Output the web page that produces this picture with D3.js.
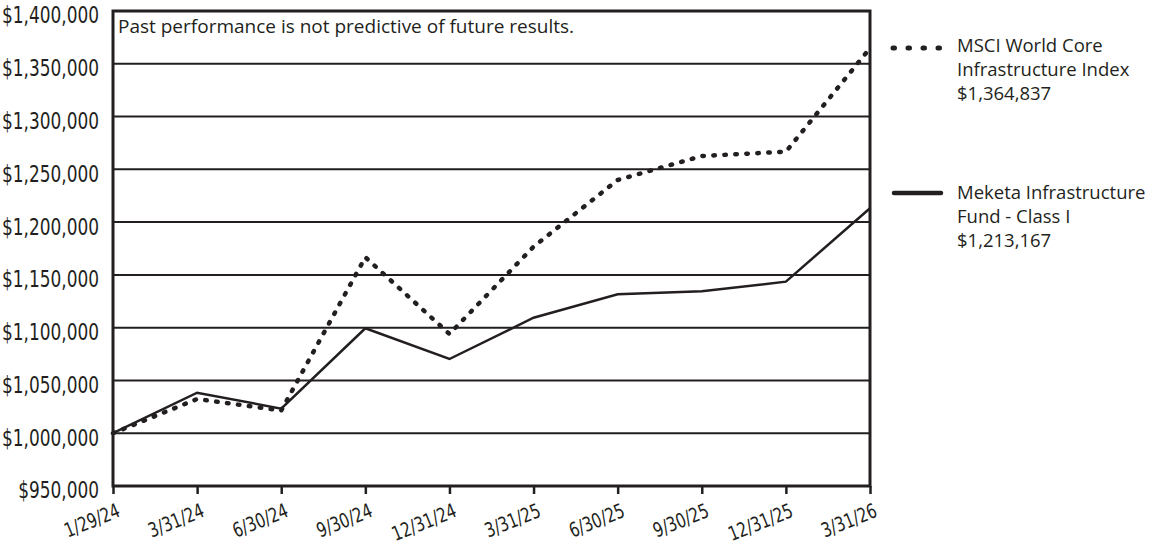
<!DOCTYPE html>
<html>
<head>
<meta charset="utf-8">
<script src="https://cdn.jsdelivr.net/npm/d3@7"></script>
<style>
body { margin: 0; background: #fff; }
svg { display: block; }
</style>
</head>
<body>
<svg id="chart" width="1158" height="546"></svg>
<script>
var dates = ['1/29/24', '3/31/24', '6/30/24', '9/30/24', '12/31/24', '3/31/25', '6/30/25', '9/30/25', '12/31/25', '3/31/26'];
var msciValues = [1000000, 1032400, 1021500, 1166700, 1094000, 1176700, 1239900, 1262600, 1266700, 1364837];
var fundValues = [1000000, 1038400, 1023300, 1099400, 1070300, 1109400, 1131600, 1134400, 1143600, 1213167];
var yTicks = [950000, 1000000, 1050000, 1100000, 1150000, 1200000, 1250000, 1300000, 1350000, 1400000];
var legendMsci = ['MSCI World Core', 'Infrastructure Index', '$1,364,837'];
var legendFund = ['Meketa Infrastructure', 'Fund - Class I', '$1,213,167'];
var note = 'Past performance is not predictive of future results.';

var ink = '#231f20';
var plotLeft = 113, plotTop = 11, plotRight = 870, plotBottom = 486;
var narrowFont = '"DejaVu Sans Condensed", "DejaVu Sans", sans-serif';
var textFont = '"Open Sans", sans-serif';

var svg = d3.select('#chart');

var x = d3.scalePoint().domain(dates).range([plotLeft, plotRight]);
var y = d3.scaleLinear().domain([950000, 1400000]).range([plotBottom, plotTop]);

var fmt = function(d) { return '$' + d3.format(',')(d); };

// squeeze labels horizontally, the original uses a condensed face
function squeeze(sel, k) {
  sel.each(function() {
    var w = this.getComputedTextLength();
    d3.select(this)
      .attr('textLength', w * k)
      .attr('lengthAdjust', 'spacingAndGlyphs');
  });
}

// gridlines
svg.append('g')
  .selectAll('line')
  .data(yTicks)
  .enter().append('line')
  .attr('x1', plotLeft).attr('x2', plotRight)
  .attr('y1', function(d) { return y(d); })
  .attr('y2', function(d) { return y(d); })
  .attr('stroke', ink)
  .attr('stroke-width', 2);

// y axis labels
var yAxis = d3.axisLeft(y).tickValues(yTicks).tickFormat(fmt).tickSize(0).tickPadding(14);
var yLabels = svg.append('g')
  .attr('transform', 'translate(' + plotLeft + ',0)')
  .call(yAxis)
  .call(function(g) { g.select('.domain').remove(); })
  .selectAll('text')
  .attr('fill', ink)
  .attr('dy', '0.52em')
  .style('font-family', narrowFont)
  .style('font-stretch', 'condensed')
  .style('font-size', '23px');

var widest = d3.max(yLabels.nodes(), function(n) { return n.getComputedTextLength(); });
squeeze(yLabels, 97 / widest);

// x axis
var xAxis = d3.axisBottom(x).tickSize(8).tickPadding(0);
var xg = svg.append('g')
  .attr('transform', 'translate(0,' + plotBottom + ')')
  .call(xAxis);
xg.select('.domain').remove();
xg.selectAll('.tick line').attr('stroke', ink).attr('stroke-width', 2.5);
var xLabels = xg.selectAll('text')
  .attr('fill', ink)
  .attr('y', 0)
  .attr('dy', 0)
  .style('font-family', narrowFont)
  .style('font-stretch', 'condensed')
  .style('font-size', '20px')
  .style('text-anchor', 'end')
  .attr('transform', 'translate(8,30) rotate(-22)');
var firstW = xLabels.node().getComputedTextLength();
squeeze(xLabels, 58 / firstW);

// frame
svg.append('rect')
  .attr('x', plotLeft).attr('y', plotTop)
  .attr('width', plotRight - plotLeft).attr('height', plotBottom - plotTop)
  .attr('fill', 'none')
  .attr('stroke', ink)
  .attr('stroke-width', 3);

var line = d3.line()
  .x(function(d, i) { return x(dates[i]); })
  .y(function(d) { return y(d); });

svg.append('path')
  .datum(fundValues)
  .attr('d', line)
  .attr('fill', 'none')
  .attr('stroke', ink)
  .attr('stroke-width', 2.5);

svg.append('path')
  .datum(msciValues)
  .attr('d', line)
  .attr('fill', 'none')
  .attr('stroke', ink)
  .attr('stroke-width', 4.5)
  .attr('stroke-linecap', 'round')
  .attr('stroke-dasharray', '1.5 9.5');

svg.append('text')
  .attr('x', 118).attr('y', 33)
  .attr('fill', ink)
  .style('font-family', textFont)
  .style('font-size', '19px')
  .text(note);

// legend
svg.append('line')
  .attr('x1', 893).attr('x2', 940)
  .attr('y1', 48).attr('y2', 48)
  .attr('stroke', ink)
  .attr('stroke-width', 5)
  .attr('stroke-linecap', 'round')
  .attr('stroke-dasharray', '1.5 13.5');

svg.append('text')
  .attr('x', 957).attr('y', 52)
  .attr('fill', ink)
  .style('font-family', textFont)
  .style('font-size', '18.5px')
  .selectAll('tspan')
  .data(legendMsci)
  .enter().append('tspan')
  .attr('x', 957)
  .attr('dy', function(d, i) { return i == 0 ? 0 : 24; })
  .text(function(d) { return d; });

svg.append('line')
  .attr('x1', 894).attr('x2', 941)
  .attr('y1', 193).attr('y2', 193)
  .attr('stroke', ink)
  .attr('stroke-width', 4.5)
  .attr('stroke-linecap', 'round');

svg.append('text')
  .attr('x', 957).attr('y', 199)
  .attr('fill', ink)
  .style('font-family', textFont)
  .style('font-size', '18.5px')
  .selectAll('tspan')
  .data(legendFund)
  .enter().append('tspan')
  .attr('x', 957)
  .attr('dy', function(d, i) { return i == 0 ? 0 : 24; })
  .text(function(d) { return d; });
</script>
</body>
</html>
